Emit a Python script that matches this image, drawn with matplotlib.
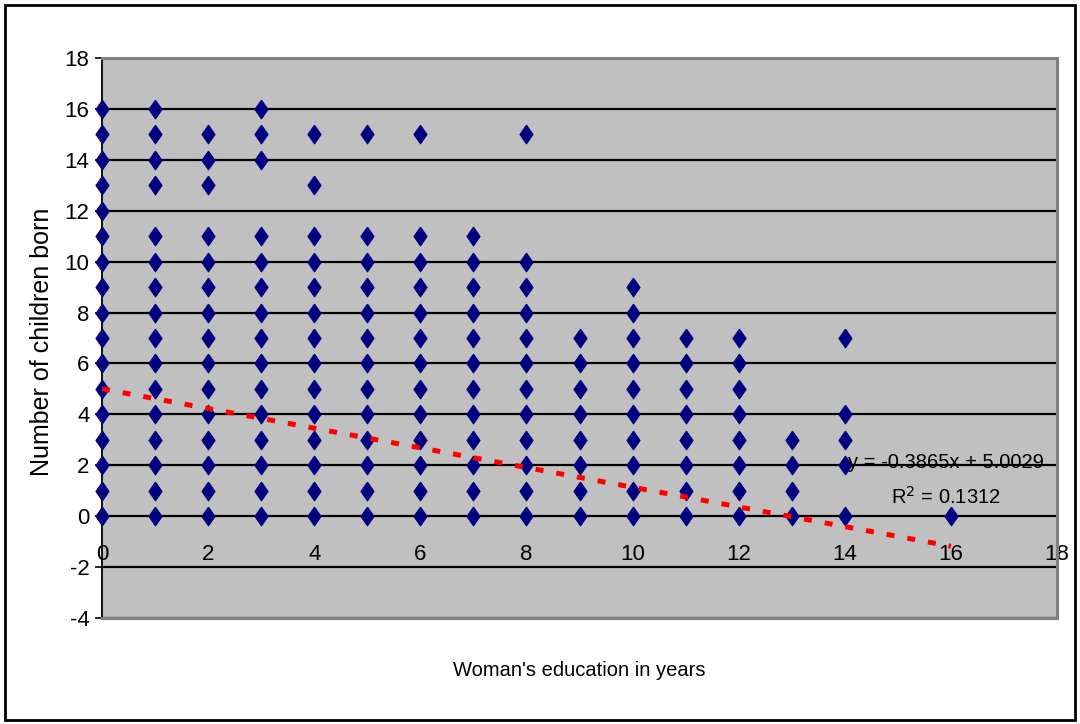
import numpy as np
import matplotlib
matplotlib.use("Agg")
import matplotlib.pyplot as plt
from matplotlib import font_manager
from matplotlib.patches import Rectangle

# -------------------------
# Data
# -------------------------

edu_levels = [0, 1, 2, 3, 4, 5, 6, 7, 8, 9, 10, 11, 12, 13, 14, 16]

children = [
    [0, 1, 2, 3, 4, 5, 6, 7, 8, 9, 10, 11, 12, 13, 14, 15, 16],  # 0 yrs
    [0, 1, 2, 3, 4, 5, 6, 7, 8, 9, 10, 11, 13, 14, 15, 16],      # 1
    [0, 1, 2, 3, 4, 5, 6, 7, 8, 9, 10, 11, 13, 14, 15],          # 2
    [0, 1, 2, 3, 4, 5, 6, 7, 8, 9, 10, 11, 14, 15, 16],          # 3
    [0, 1, 2, 3, 4, 5, 6, 7, 8, 9, 10, 11, 13, 15],              # 4
    [0, 1, 2, 3, 4, 5, 6, 7, 8, 9, 10, 11, 15],                  # 5
    [0, 1, 2, 3, 4, 5, 6, 7, 8, 9, 10, 11, 15],                  # 6
    [0, 1, 2, 3, 4, 5, 6, 7, 8, 9, 10, 11],                      # 7
    [0, 1, 2, 3, 4, 5, 6, 7, 8, 9, 10, 15],                      # 8
    [0, 1, 2, 3, 4, 5, 6, 7],                                    # 9
    [0, 1, 2, 3, 4, 5, 6, 7, 8, 9],                              # 10
    [0, 1, 2, 3, 4, 5, 6, 7],                                    # 11
    [0, 1, 2, 3, 4, 5, 6, 7],                                    # 12
    [0, 1, 2, 3],                                                # 13
    [0, 2, 3, 4, 7],                                             # 14
    [0],                                                         # 16
]

# linear trendline as printed on the chart
slope = -0.3865
intercept = 5.0029
r_squared = 0.1312
trend_x = [0, 16]

x_ticks = list(range(0, 19, 2))
y_ticks = list(range(-4, 19, 2))

# -------------------------
# Fonts
# -------------------------

installed = {f.name for f in font_manager.fontManager.ttflist}
if "Liberation Sans Narrow" in installed:
    TEXT_FONT = ["Liberation Sans Narrow", "DejaVu Sans"]
    TICK_SIZE, LABEL_SIZE, EQ_SIZE = 18, 17, 17
else:
    TEXT_FONT = ["Liberation Sans", "DejaVu Sans"]
    TICK_SIZE, LABEL_SIZE, EQ_SIZE = 16, 14.5, 14.5
plt.rcParams["font.family"] = TEXT_FONT
plt.rcParams["axes.unicode_minus"] = False

# Excel-style diamond: a bit taller than wide
DIAMOND = [(0, 1), (0.7, 0), (0, -1), (-0.7, 0), (0, 1)]

# -------------------------
# Plot
# -------------------------

W, H = 1080, 724
fig = plt.figure(figsize=(W / 100, H / 100), dpi=100)
ax = fig.add_axes([102 / W, 1 - 618 / H, (1057 - 102) / W, (618 - 58) / H])
ax.set_facecolor("#c0c0c0")

xs = np.concatenate([[x] * len(ys) for x, ys in zip(edu_levels, children)])
ys = np.concatenate(children)
ax.plot(xs, ys, linestyle="none", marker=DIAMOND, markersize=13.5,
        markerfacecolor="#000080", markeredgecolor="#000080",
        markeredgewidth=0.8, zorder=3, clip_on=False)

tx = np.array(trend_x, dtype=float)
ax.plot(tx, slope * tx + intercept, color="red", linewidth=3.6,
        linestyle=(0, (1.6, 2.6)), dash_capstyle="butt", zorder=4)

ax.text(15.9, 2.1, f"y = {slope}x + {intercept}", ha="center", va="center",
        fontsize=EQ_SIZE, zorder=5)
ax.text(15.9, 0.75, f"R$^2$ = {r_squared}", ha="center", va="center",
        fontsize=EQ_SIZE, zorder=5)

ax.set_xlim(0, 18)
ax.set_ylim(-4, 18)
ax.set_xticks(x_ticks)
ax.set_yticks(y_ticks)

ax.set_axisbelow(True)
ax.yaxis.grid(True, color="black", linewidth=1.6)
ax.xaxis.grid(False)

for side in ["top", "right", "bottom"]:
    ax.spines[side].set_color("#808080")
    ax.spines[side].set_linewidth(2.2)
ax.spines["left"].set_color("black")
ax.spines["left"].set_linewidth(1.3)

ax.tick_params(axis="y", direction="out", length=5, width=1.2,
               labelsize=TICK_SIZE, pad=4)
ax.tick_params(axis="x", length=0, labelsize=TICK_SIZE, pad=-38)
for lbl in ax.get_xticklabels():
    lbl.set_verticalalignment("bottom")

ax.set_xlabel("Woman's education in years", fontsize=LABEL_SIZE)
ax.xaxis.set_label_coords(0.5, -0.077)
ax.set_ylabel("Number of children born", fontsize=18,
              family=["Liberation Sans", "DejaVu Sans"])
ax.yaxis.set_label_coords(-0.05, 0.493)

# outer chart border
fig.add_artist(Rectangle((5 / W, 4 / H), (1075 - 5) / W, (719 - 4) / H,
                         transform=fig.transFigure, fill=False,
                         edgecolor="black", linewidth=2))

fig.savefig("out.png", dpi=100)
